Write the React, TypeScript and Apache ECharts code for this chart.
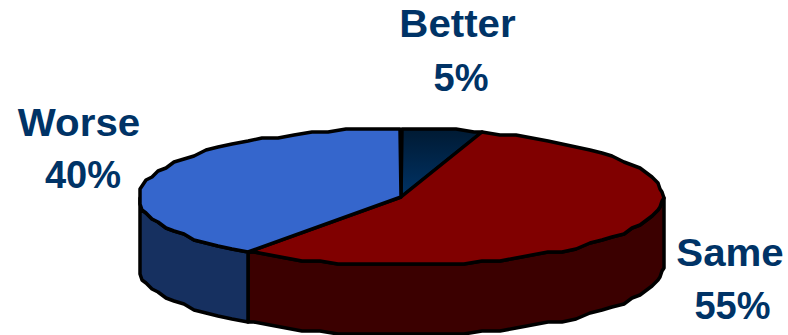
import React, { useEffect, useRef } from "react";
import * as echarts from "echarts";

// Survey shares, clockwise from twelve o'clock.
const categories = ["Better", "Same", "Worse"];
const shares = [5, 55, 40];

const topColors = [null, "#800000", "#3566cc"];
const wallColors = ["#00264d", "#3b0000", "#163060"];
// Name-line and percent-line centres and baselines for each slice label.
const nameAnchors = [
  [457.5, 38],
  [730, 267],
  [79, 137],
];
const percentAnchors = [
  [461, 92],
  [732.5, 320],
  [83, 189],
];
const labelColor = "#003366";
const BASELINE_OFFSET = 33; // em-box top to baseline at the label font size

const CX = 401;
const CY = 197;
const RX = 262;
const RY = 68;
const DEPTH = 70;
const STEP = 4; // degrees between rim vertices
const GRID_X = 2; // rim vertices snap to a coarse grid, giving the faceted outline
const GRID_Y = 3;

const snap = (v: number, g: number) => Math.round(v / g) * g;

const rim = (deg: number, drop = 0): number[] => {
  const a = (deg * Math.PI) / 180;
  return [snap(CX + RX * Math.sin(a), GRID_X), snap(CY - RY * Math.cos(a), GRID_Y) + drop];
};

const arc = (from: number, to: number, drop = 0): number[][] => {
  const pts: number[][] = [];
  for (let d = from; d < to; d += STEP) pts.push(rim(d, drop));
  pts.push(rim(to, drop));
  return pts;
};

const labelText = (text: string, x: number, baseline: number, scaleX: number) => ({
  type: "text",
  x,
  y: baseline - BASELINE_OFFSET,
  scaleX,
  style: {
    text,
    x: 0,
    y: 0,
    fill: labelColor,
    fontFamily: "'Liberation Sans', Arial, sans-serif",
    fontWeight: "bold",
    fontSize: 38,
    align: "center",
    verticalAlign: "top",
  },
});

const renderSlice = (params: any, api: any) => {
  const i = params.dataIndex;
  const total = shares.reduce((s, v) => s + v, 0);
  const before = shares.slice(0, i).reduce((s, v) => s + v, 0);
  const start = (before / total) * 360;
  const end = start + (api.value(0) / total) * 360;
  const edge = { stroke: "#000", lineWidth: 3.5, lineJoin: "round" };
  const children: any[] = [];

  // Only the part of the rim facing the viewer (90..270 degrees) gets a wall.
  const wallFrom = Math.max(start, 90);
  const wallTo = Math.min(end, 270);
  if (wallFrom < wallTo) {
    children.push({
      type: "polygon",
      shape: { points: [...arc(wallFrom, wallTo), ...arc(wallFrom, wallTo, DEPTH).reverse()] },
      style: { fill: wallColors[i], ...edge },
    });
  }

  const fill =
    topColors[i] ??
    new echarts.graphic.LinearGradient(0, 0, 0, 1, [
      { offset: 0, color: "#001a33" },
      { offset: 1, color: "#003366" },
    ]);
  children.push({
    type: "polygon",
    shape: { points: [[CX, CY], ...arc(start, end)] },
    style: { fill, ...edge },
  });

  children.push(labelText(categories[i], nameAnchors[i][0], nameAnchors[i][1], 1.06));
  children.push(labelText(`${api.value(0)}%`, percentAnchors[i][0], percentAnchors[i][1], 1));

  return { type: "group", children };
};

export default function App() {
  const ref = useRef<HTMLDivElement>(null);

  useEffect(() => {
    document.body.style.margin = "0";
    const chart = echarts.init(ref.current!, null, { renderer: "svg" });
    chart.setOption({
      animation: false,
      backgroundColor: "#ffffff",
      series: [
        {
          type: "custom",
          coordinateSystem: "none",
          data: shares.map((v) => [v]),
          renderItem: renderSlice,
          silent: true,
        },
      ],
    });
    return () => chart.dispose();
  }, []);

  return <div ref={ref} style={{ width: 788, height: 335 }} />;
}
